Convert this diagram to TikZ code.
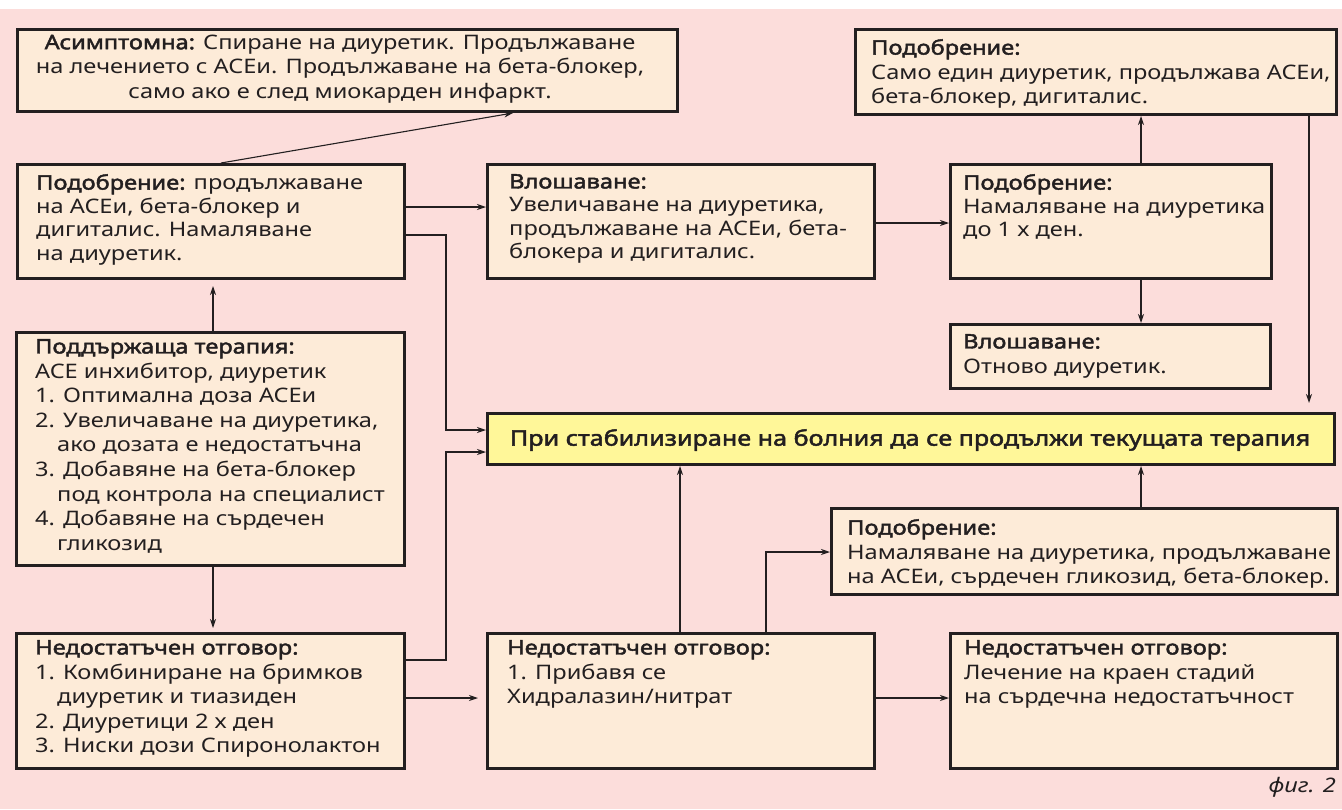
\documentclass[tikz,border=0pt]{standalone}
\usepackage{fontspec}
\setmainfont{Noto Sans}[Script=Cyrillic,Language=Bulgarian,FakeStretch=1.18,BoldFont={Noto Sans},BoldFeatures={FakeBold=2.2}]
\usetikzlibrary{arrows.meta,calc}
\definecolor{bgpink}{RGB}{252,221,219}
\definecolor{boxfill}{RGB}{253,235,216}
\definecolor{yel}{RGB}{255,247,153}
\definecolor{ink}{RGB}{35,31,32}
\newcommand\myfs{\fontsize{20pt}{24.6pt}\selectfont}
\newcommand\myfsb{\fontsize{20pt}{23.5pt}\selectfont}
\newcommand\myfsy{\fontsize{21.3pt}{25pt}\selectfont}
\newcommand\myind{\hspace*{22pt}}
\newcommand\mybox[6][boxfill]{\node[box, fill=#1, minimum width={(#5-#3-2.6)*1pt}, minimum height={(#6-#4-2.6)*1pt}] (#2) at (#3,#4) {};}
\begin{document}
\begin{tikzpicture}[x=1pt,y=-1pt,
  box/.style={draw=ink, line width=2.6pt, inner sep=0pt, anchor=north west},
  txt/.style={inner sep=0pt, anchor=north west, align=left, font=\myfs, text=ink},
  conn/.style={draw=ink, line width=1.1pt, -{Stealth[length=9pt,width=6pt]}},
  line/.style={draw=ink, line width=1.1pt}]
\fill[white] (0,0) rectangle (1342,809);
\fill[bgpink] (0,9) rectangle (1342,809);
\useasboundingbox (0,0) rectangle (1342,809);
% boxes
\mybox{A}{16}{28}{679}{113}
\mybox{B}{16}{163}{406}{280}
\mybox{C}{486}{163}{876}{280}
\mybox{D}{854}{28}{1338}{116}
\mybox{E}{949}{163}{1273}{280}
\mybox{F}{949}{323}{1272}{390}
\mybox{G}{15}{331}{406}{567}
\mybox{H}{15}{632}{406}{770}
\mybox[yel]{Y}{486}{412}{1336}{466}
\mybox{I}{830}{507}{1339}{596}
\mybox{J}{486}{632}{876}{770}
\mybox{K}{949}{632}{1339}{770}
% texts
\node[txt, anchor=center, align=center] (At) at (340,69) {\textbf{Асимптомна:} Спиране на диуретик. Продължаване\\ на лечението с ACEи. Продължаване на бета-блокер,\\ само ако е след миокарден инфаркт.};
\node[txt, font=\myfsb] (Bt) at ($(B.north west)+(20,11)$) {\textbf{Подобрение:} продължаване\\ на ACEи, бета-блокер и\\ дигиталис. Намаляване\\ на диуретик.};
\node[txt, font=\myfsb] (Ct) at ($(C.north west)+(23,11)$) {\textbf{Влошаване:}\\ Увеличаване на диуретика,\\ продължаване на ACEи, бета-\\ блокера и дигиталис.};
\node[txt] (Dt) at ($(D.north west)+(17,11)$) {\textbf{Подобрение:}\\ Само един диуретик, продължава ACEи,\\ бета-блокер, дигиталис.};
\node[txt, font=\myfsb] (Et) at ($(E.north west)+(14,11)$) {\textbf{Подобрение:}\\ Намаляване на диуретика\\ до 1 х ден.};
\node[txt] (Ft) at ($(F.north west)+(14,11)$) {\textbf{Влошаване:}\\ Отново диуретик.};
\node[txt] (Gt) at ($(G.north west)+(20,8)$) {\textbf{Поддържаща терапия:}\\ ACE инхибитор, диуретик\\ 1. Оптимална доза ACEи\\ 2. Увеличаване на диуретика,\\ \myind ако дозата е недостатъчна\\ 3. Добавяне на бета-блокер\\ \myind под контрола на специалист\\ 4. Добавяне на сърдечен\\ \myind гликозид};
\node[txt] (Ht) at ($(H.north west)+(20,8)$) {\textbf{Недостатъчен отговор:}\\ 1. Комбиниране на бримков\\ \myind диуретик и тиазиден\\ 2. Диуретици 2 х ден\\ 3. Ниски дози Спиронолактон};
\node[txt, anchor=center, align=center, font=\myfsy] (Yt) at (910,440) {\textbf{При стабилизиране на болния да се продължи текущата терапия}};
\node[txt] (It) at ($(I.north west)+(17,12)$) {\textbf{Подобрение:}\\ Намаляване на диуретика, продължаване\\ на ACEи, сърдечен гликозид, бета-блокер.};
\node[txt] (Jt) at ($(J.north west)+(21,8)$) {\textbf{Недостатъчен отговор:}\\ 1. Прибавя се\\ Хидралазин/нитрат};
\node[txt] (Kt) at ($(K.north west)+(15,8)$) {\textbf{Недостатъчен отговор:}\\ Лечение на краен стадий\\ на сърдечна недостатъчност};
\node[txt, anchor=east] (fig) at (1336,787) {\itshape фиг. 2};
% helper coordinates
\coordinate (x213) at (213,0);
\coordinate (x221) at (221,0);
\coordinate (x513) at (513,0);
\coordinate (x446) at (446,0);
\coordinate (x680) at (680,0);
\coordinate (x766) at (766,0);
\coordinate (x1141) at (1141,0);
\coordinate (x1309) at (1309,0);
\coordinate (y207) at (0,207);
\coordinate (y223) at (0,223);
\coordinate (y235) at (0,235);
\coordinate (y430) at (0,430);
\coordinate (y452) at (0,452);
\coordinate (y552) at (0,552);
\coordinate (y660) at (0,660);
\coordinate (y698) at (0,698);
% connectors
\draw[conn] (B.north -| x221) -- (A.south -| x513);
\draw[conn] (B.east |- y207) -- (C.west |- y207);
\draw[conn] (B.east |- y235) -- (x446 |- y235) -- (x446 |- y430) -- (Y.west |- y430);
\draw[conn, shorten >=6pt] (G.north -| x213) -- (B.south -| x213);
\draw[conn, shorten >=4pt] (G.south -| x213) -- (H.north -| x213);
\draw[conn] (H.east |- y660) -- (x446 |- y660) -- (x446 |- y452) -- (Y.west |- y452);
\draw[conn, shorten >=8pt] (H.east |- y698) -- (J.west |- y698);
\draw[conn] (C.east |- y223) -- (E.west |- y223);
\draw[conn] (E.north -| x1141) -- (D.south -| x1141);
\draw[conn] (E.south -| x1141) -- (F.north -| x1141);
\draw[conn, shorten >=9pt] (D.south -| x1309) -- (Y.north -| x1309);
\draw[conn] (J.north -| x680) -- (Y.south -| x680);
\draw[conn] (J.north -| x766) -- (x766 |- y552) -- (I.west |- y552);
\draw[conn] (I.north -| x1141) -- (Y.south -| x1141);
\draw[conn] (J.east |- y698) -- (K.west |- y698);
\end{tikzpicture}
\end{document}
